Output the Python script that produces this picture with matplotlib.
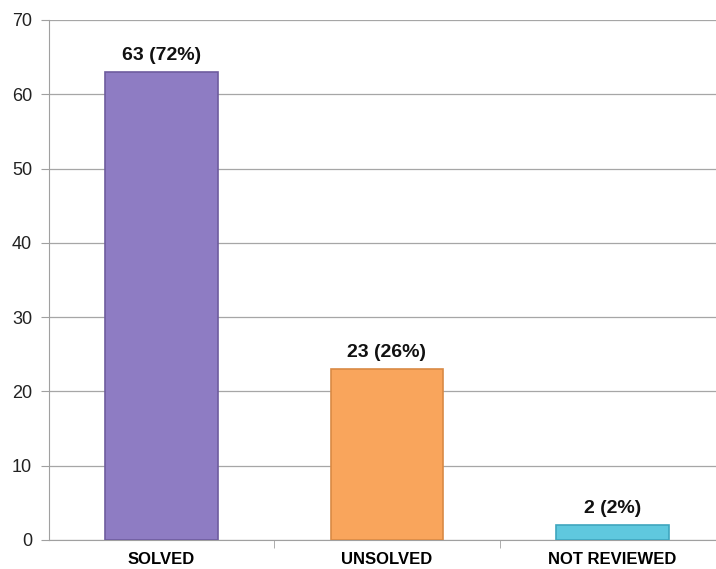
import matplotlib.pyplot as plt
import numpy as np

categories = ['SOLVED', 'UNSOLVED', 'NOT REVIEWED']
counts = [63, 23, 2]
percents = [72, 26, 2]
colors = ['#8E7CC3', '#F9A55C', '#5FC8DE']
edges = ['#6E5C9E', '#D98A45', '#3FA6BE']

plt.rcParams['font.family'] = ['Liberation Sans', 'DejaVu Sans']

fig = plt.figure(figsize=(7.16, 5.69), dpi=100)
ax = fig.add_axes([0.0681, 0.051, 0.9445, 0.9139])

x = np.arange(len(categories))
bars = ax.bar(x, counts, width=0.5, color=colors, edgecolor=edges, linewidth=1.2, zorder=3)

for b, c, p in zip(bars, counts, percents):
    ax.text(b.get_x() + b.get_width() / 2, c + 1.1, '%d (%d%%)' % (c, p),
            ha='center', va='bottom', fontsize=14, fontweight='bold', color='#111111')

ax.set_xlim(-0.5, 2.5)
ax.set_ylim(0, 70)
ax.set_yticks(range(0, 71, 10))
ax.yaxis.grid(True, color='#A6A6A6', linewidth=0.9, zorder=0)
ax.set_axisbelow(True)

# category labels centered, ticks between categories
ax.set_xticks(x)
ax.set_xticklabels(categories, fontsize=12, fontweight='bold')
ax.tick_params(axis='x', length=0, pad=9)
ax.set_xticks([0.5, 1.5], minor=True)
ax.tick_params(axis='x', which='minor', length=6, color='#A0A0A0', direction='out')

ax.tick_params(axis='y', labelsize=13, length=6, color='#A0A0A0', pad=6, labelcolor='#222222')

for s in ['top', 'right']:
    ax.spines[s].set_visible(False)
ax.spines['left'].set_color('#A0A0A0')
ax.spines['bottom'].set_color('#A0A0A0')

fig.savefig('out.png', dpi=100)
